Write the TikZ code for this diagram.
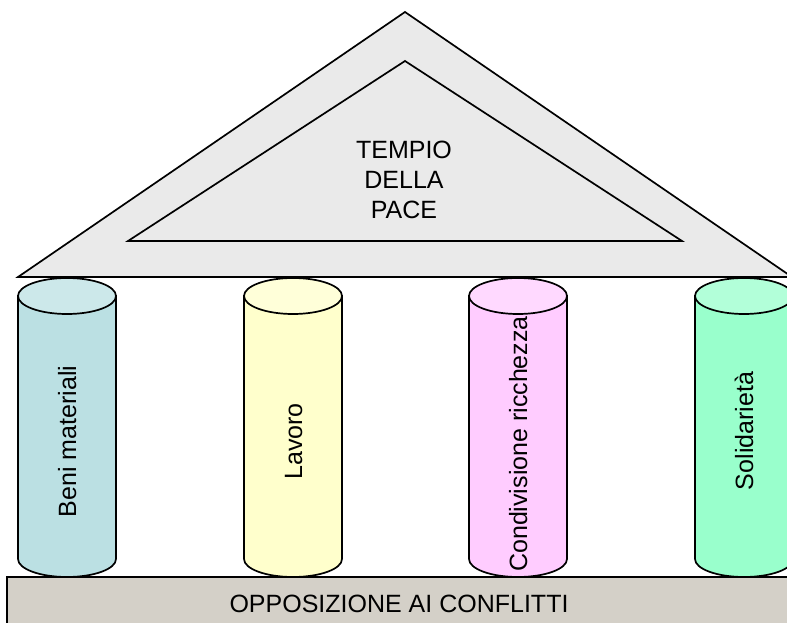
\documentclass[tikz,border=0pt]{standalone}
\usepackage{fontspec}
\setmainfont{Liberation Sans}
\definecolor{roofgray}{HTML}{EAEAEA}
\definecolor{basegray}{HTML}{D4D0C8}
\definecolor{colA}{HTML}{BBE0E3}
\definecolor{colB}{HTML}{FFFFCC}
\definecolor{colC}{HTML}{FFCCFF}
\definecolor{colD}{HTML}{99FFCC}
\tikzset{
  outl/.style={draw=black, line width=1.7pt, line join=miter},
  lbl/.style={font=\fontsize{25}{30}\selectfont, inner sep=0pt, text=black},
  collbl/.style={lbl, rotate=90, anchor=base},
}
\newcommand{\mycyl}[3]{% #1 center x, #2 colour, #3 name
  \path[outl, fill=#2] (#1-49,296) -- (#1-49,559)
     arc[start angle=180, end angle=0, x radius=49, y radius=18]
     -- (#1+49,296) -- cycle;
  \path[outl, fill=#2!75!white] (#1,296) ellipse[x radius=49, y radius=18];
  \coordinate (#3) at (#1,296);
}
\begin{document}
\begin{tikzpicture}[x=1pt,y=-1pt]
\clip (0,0) rectangle (787,623);
\useasboundingbox (0,0) rectangle (787,623);
% roof
\path[outl, fill=roofgray] (18,277) -- (405,12) -- (792,277) -- cycle;
\path[outl, fill=roofgray] (128,241) -- (405,61) -- (682,241) -- cycle;
\node[lbl, anchor=base] (t1) at (404,158) {TEMPIO};
\node[lbl, anchor=base] (t2) at (404,188) {DELLA};
\node[lbl, anchor=base] (t3) at (404,218) {PACE};
% base
\path[outl, fill=basegray] (7,577) rectangle (800,640);
\node[lbl, anchor=base] (baselbl) at (399,612) {OPPOSIZIONE AI CONFLITTI};
% columns
\mycyl{67}{colA}{c1}
\mycyl{293}{colB}{c2}
\mycyl{518}{colC}{c3}
\mycyl{744}{colD}{c4}
\node[collbl] (l1) at (76,441.5) {Beni materiali};
\node[collbl] (l2) at (302,441.5) {Lavoro};
\node[collbl] (l3) at (527,444) {Condivisione ricchezza};
\node[collbl] (l4) at (753,431) {Solidarietà};
\end{tikzpicture}
\end{document}
